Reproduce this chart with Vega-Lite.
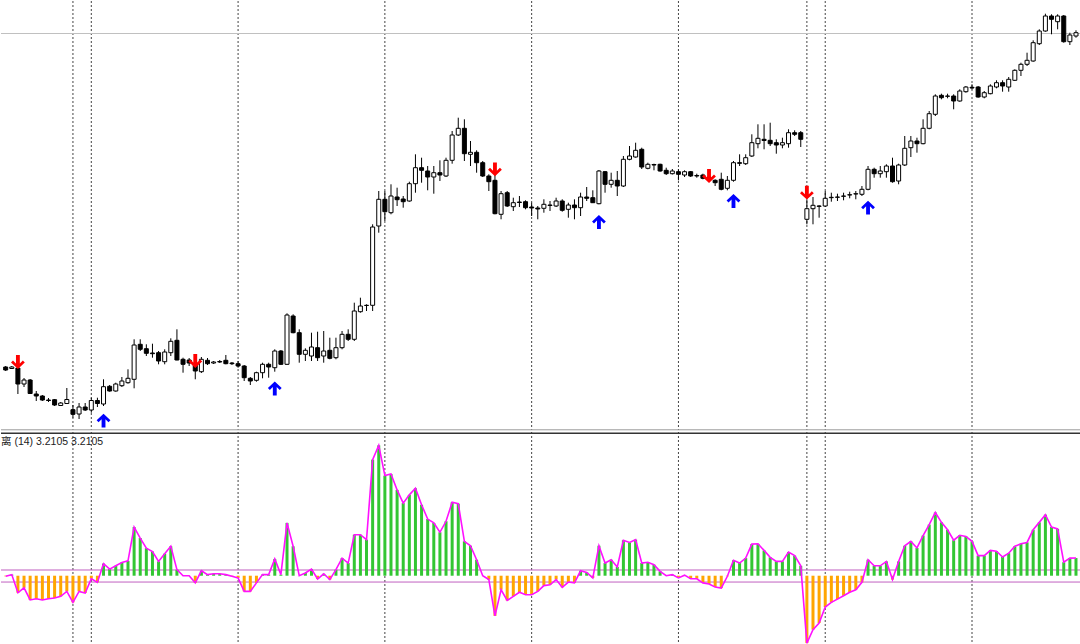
{
"$schema":"https://vega.github.io/schema/vega-lite/v6.json",
"padding":0,
"spacing":0,
"config":{"view":{"stroke":null}},
"datasets":{
"seps":[{"i":11},{"i":14},{"i":38},{"i":62},{"i":86},{"i":110},{"i":131},{"i":134},{"i":158}],
"levels":[{"lv":1.04},{"lv":-1.15}],
"bid":[{"p":1.33975}],
"topedge":[{"p":1.30012}],
"botedge":[{"v":25.9}],
"label":[{"label":"离 (14) 3.2105 3.2105","i":-0.764,"v":24.4}],
"arrows":[
{"i":2,"p":1.30690,"t":"down"},{"i":31,"p":1.30700,"t":"down"},{"i":80,"p":1.32617,"t":"down"},{"i":115,"p":1.32550,"t":"down"},{"i":131,"p":1.32383,"t":"down"},
{"i":16,"p":1.30103,"t":"up"},{"i":44,"p":1.30425,"t":"up"},{"i":97,"p":1.32090,"t":"up"},{"i":119,"p":1.32300,"t":"up"},{"i":141,"p":1.32233,"t":"up"}],
"candles":[
{"i":0,"o":1.30640,"h":1.30650,"l":1.30600,"c":1.30610},
{"i":1,"o":1.30625,"h":1.30650,"l":1.30620,"c":1.30640},
{"i":2,"o":1.30630,"h":1.30640,"l":1.30370,"c":1.30470},
{"i":3,"o":1.30470,"h":1.30530,"l":1.30440,"c":1.30510},
{"i":4,"o":1.30510,"h":1.30520,"l":1.30370,"c":1.30375},
{"i":5,"o":1.30370,"h":1.30400,"l":1.30300,"c":1.30350},
{"i":6,"o":1.30350,"h":1.30360,"l":1.30300,"c":1.30310},
{"i":7,"o":1.30310,"h":1.30330,"l":1.30290,"c":1.30305},
{"i":8,"o":1.30313,"h":1.30320,"l":1.30250,"c":1.30260},
{"i":9,"o":1.30255,"h":1.30290,"l":1.30250,"c":1.30280},
{"i":10,"o":1.30275,"h":1.30430,"l":1.30270,"c":1.30315},
{"i":11,"o":1.30213,"h":1.30260,"l":1.30133,"c":1.30167},
{"i":12,"o":1.30170,"h":1.30280,"l":1.30120,"c":1.30240},
{"i":13,"o":1.30240,"h":1.30280,"l":1.30200,"c":1.30210},
{"i":14,"o":1.30210,"h":1.30333,"l":1.30183,"c":1.30305},
{"i":15,"o":1.30305,"h":1.30333,"l":1.30240,"c":1.30275},
{"i":16,"o":1.30270,"h":1.30517,"l":1.30250,"c":1.30443},
{"i":17,"o":1.30447,"h":1.30460,"l":1.30393,"c":1.30400},
{"i":18,"o":1.30400,"h":1.30483,"l":1.30393,"c":1.30470},
{"i":19,"o":1.30453,"h":1.30540,"l":1.30440,"c":1.30500},
{"i":20,"o":1.30483,"h":1.30617,"l":1.30473,"c":1.30527},
{"i":21,"o":1.30517,"h":1.30917,"l":1.30427,"c":1.30860},
{"i":22,"o":1.30867,"h":1.30917,"l":1.30800,"c":1.30817},
{"i":23,"o":1.30823,"h":1.30867,"l":1.30750,"c":1.30777},
{"i":24,"o":1.30780,"h":1.30873,"l":1.30733,"c":1.30773},
{"i":25,"o":1.30783,"h":1.30800,"l":1.30667,"c":1.30700},
{"i":26,"o":1.30693,"h":1.30817,"l":1.30667,"c":1.30790},
{"i":27,"o":1.30783,"h":1.30927,"l":1.30750,"c":1.30897},
{"i":28,"o":1.30907,"h":1.31017,"l":1.30707,"c":1.30710},
{"i":29,"o":1.30717,"h":1.30733,"l":1.30583,"c":1.30667},
{"i":30,"o":1.30710,"h":1.30730,"l":1.30650,"c":1.30680},
{"i":31,"o":1.30667,"h":1.30733,"l":1.30517,"c":1.30600},
{"i":32,"o":1.30593,"h":1.30740,"l":1.30580,"c":1.30717},
{"i":33,"o":1.30707,"h":1.30730,"l":1.30660,"c":1.30673},
{"i":34,"o":1.30680,"h":1.30700,"l":1.30670,"c":1.30690},
{"i":35,"o":1.30695,"h":1.30710,"l":1.30680,"c":1.30690},
{"i":36,"o":1.30707,"h":1.30760,"l":1.30667,"c":1.30673},
{"i":37,"o":1.30680,"h":1.30690,"l":1.30660,"c":1.30673},
{"i":38,"o":1.30673,"h":1.30700,"l":1.30633,"c":1.30650},
{"i":39,"o":1.30650,"h":1.30660,"l":1.30500,"c":1.30533},
{"i":40,"o":1.30527,"h":1.30540,"l":1.30460,"c":1.30500},
{"i":41,"o":1.30507,"h":1.30593,"l":1.30493,"c":1.30583},
{"i":42,"o":1.30583,"h":1.30683,"l":1.30527,"c":1.30667},
{"i":43,"o":1.30667,"h":1.30683,"l":1.30533,"c":1.30640},
{"i":44,"o":1.30633,"h":1.30817,"l":1.30593,"c":1.30800},
{"i":45,"o":1.30800,"h":1.30810,"l":1.30660,"c":1.30667},
{"i":46,"o":1.30667,"h":1.31177,"l":1.30660,"c":1.31160},
{"i":47,"o":1.31150,"h":1.31167,"l":1.30977,"c":1.30983},
{"i":48,"o":1.30983,"h":1.31017,"l":1.30683,"c":1.30767},
{"i":49,"o":1.30767,"h":1.30827,"l":1.30700,"c":1.30807},
{"i":50,"o":1.30750,"h":1.30983,"l":1.30700,"c":1.30840},
{"i":51,"o":1.30833,"h":1.30993,"l":1.30700,"c":1.30733},
{"i":52,"o":1.30750,"h":1.31000,"l":1.30683,"c":1.30800},
{"i":53,"o":1.30807,"h":1.30933,"l":1.30717,"c":1.30727},
{"i":54,"o":1.30733,"h":1.30933,"l":1.30717,"c":1.30833},
{"i":55,"o":1.30833,"h":1.31000,"l":1.30817,"c":1.30967},
{"i":56,"o":1.30967,"h":1.31017,"l":1.30900,"c":1.30917},
{"i":57,"o":1.30917,"h":1.31283,"l":1.30900,"c":1.31200},
{"i":58,"o":1.31193,"h":1.31333,"l":1.31183,"c":1.31250},
{"i":59,"o":1.31255,"h":1.31267,"l":1.31200,"c":1.31257},
{"i":60,"o":1.31257,"h":1.32067,"l":1.31200,"c":1.32040},
{"i":61,"o":1.32050,"h":1.32400,"l":1.31983,"c":1.32317},
{"i":62,"o":1.32317,"h":1.32400,"l":1.32100,"c":1.32193},
{"i":63,"o":1.32183,"h":1.32467,"l":1.32167,"c":1.32350},
{"i":64,"o":1.32340,"h":1.32433,"l":1.32250,"c":1.32313},
{"i":65,"o":1.32320,"h":1.32350,"l":1.32233,"c":1.32293},
{"i":66,"o":1.32300,"h":1.32493,"l":1.32293,"c":1.32473},
{"i":67,"o":1.32473,"h":1.32767,"l":1.32383,"c":1.32633},
{"i":68,"o":1.32633,"h":1.32733,"l":1.32483,"c":1.32607},
{"i":69,"o":1.32600,"h":1.32650,"l":1.32407,"c":1.32540},
{"i":70,"o":1.32540,"h":1.32650,"l":1.32373,"c":1.32583},
{"i":71,"o":1.32583,"h":1.32707,"l":1.32500,"c":1.32560},
{"i":72,"o":1.32550,"h":1.32733,"l":1.32540,"c":1.32707},
{"i":73,"o":1.32707,"h":1.33000,"l":1.32673,"c":1.32960},
{"i":74,"o":1.32960,"h":1.33133,"l":1.32950,"c":1.33027},
{"i":75,"o":1.33027,"h":1.33117,"l":1.32700,"c":1.32773},
{"i":76,"o":1.32767,"h":1.32900,"l":1.32650,"c":1.32787},
{"i":77,"o":1.32787,"h":1.32807,"l":1.32583,"c":1.32683},
{"i":78,"o":1.32683,"h":1.32700,"l":1.32540,"c":1.32550},
{"i":79,"o":1.32550,"h":1.32567,"l":1.32400,"c":1.32493},
{"i":80,"o":1.32507,"h":1.32567,"l":1.32167,"c":1.32173},
{"i":81,"o":1.32167,"h":1.32400,"l":1.32117,"c":1.32373},
{"i":82,"o":1.32383,"h":1.32400,"l":1.32240,"c":1.32250},
{"i":83,"o":1.32243,"h":1.32333,"l":1.32200,"c":1.32283},
{"i":84,"o":1.32290,"h":1.32350,"l":1.32240,"c":1.32285},
{"i":85,"o":1.32293,"h":1.32307,"l":1.32217,"c":1.32233},
{"i":86,"o":1.32240,"h":1.32283,"l":1.32150,"c":1.32230},
{"i":87,"o":1.32230,"h":1.32250,"l":1.32117,"c":1.32220},
{"i":88,"o":1.32227,"h":1.32317,"l":1.32183,"c":1.32267},
{"i":89,"o":1.32255,"h":1.32300,"l":1.32200,"c":1.32260},
{"i":90,"o":1.32250,"h":1.32333,"l":1.32240,"c":1.32300},
{"i":91,"o":1.32300,"h":1.32317,"l":1.32193,"c":1.32207},
{"i":92,"o":1.32217,"h":1.32283,"l":1.32133,"c":1.32260},
{"i":93,"o":1.32260,"h":1.32317,"l":1.32117,"c":1.32233},
{"i":94,"o":1.32233,"h":1.32383,"l":1.32150,"c":1.32340},
{"i":95,"o":1.32340,"h":1.32440,"l":1.32300,"c":1.32327},
{"i":96,"o":1.32333,"h":1.32407,"l":1.32280,"c":1.32283},
{"i":97,"o":1.32273,"h":1.32610,"l":1.32267,"c":1.32600},
{"i":98,"o":1.32593,"h":1.32600,"l":1.32383,"c":1.32467},
{"i":99,"o":1.32467,"h":1.32583,"l":1.32433,"c":1.32507},
{"i":100,"o":1.32507,"h":1.32600,"l":1.32350,"c":1.32450},
{"i":101,"o":1.32450,"h":1.32750,"l":1.32440,"c":1.32717},
{"i":102,"o":1.32717,"h":1.32850,"l":1.32707,"c":1.32750},
{"i":103,"o":1.32740,"h":1.32883,"l":1.32733,"c":1.32807},
{"i":104,"o":1.32817,"h":1.32833,"l":1.32620,"c":1.32640},
{"i":105,"o":1.32627,"h":1.32683,"l":1.32617,"c":1.32667},
{"i":106,"o":1.32665,"h":1.32673,"l":1.32607,"c":1.32660},
{"i":107,"o":1.32667,"h":1.32673,"l":1.32593,"c":1.32600},
{"i":108,"o":1.32607,"h":1.32633,"l":1.32560,"c":1.32573},
{"i":109,"o":1.32573,"h":1.32620,"l":1.32565,"c":1.32600},
{"i":110,"o":1.32593,"h":1.32617,"l":1.32507,"c":1.32567},
{"i":111,"o":1.32560,"h":1.32607,"l":1.32540,"c":1.32593},
{"i":112,"o":1.32593,"h":1.32600,"l":1.32540,"c":1.32550},
{"i":113,"o":1.32555,"h":1.32573,"l":1.32533,"c":1.32550},
{"i":114,"o":1.32560,"h":1.32573,"l":1.32517,"c":1.32527},
{"i":115,"o":1.32540,"h":1.32570,"l":1.32500,"c":1.32517},
{"i":116,"o":1.32507,"h":1.32517,"l":1.32450,"c":1.32483},
{"i":117,"o":1.32517,"h":1.32583,"l":1.32407,"c":1.32417},
{"i":118,"o":1.32427,"h":1.32550,"l":1.32407,"c":1.32507},
{"i":119,"o":1.32507,"h":1.32700,"l":1.32493,"c":1.32683},
{"i":120,"o":1.32683,"h":1.32767,"l":1.32650,"c":1.32677},
{"i":121,"o":1.32673,"h":1.32767,"l":1.32660,"c":1.32733},
{"i":122,"o":1.32750,"h":1.32967,"l":1.32740,"c":1.32883},
{"i":123,"o":1.32873,"h":1.33067,"l":1.32827,"c":1.32927},
{"i":124,"o":1.32917,"h":1.33067,"l":1.32817,"c":1.32905},
{"i":125,"o":1.32907,"h":1.33083,"l":1.32850,"c":1.32873},
{"i":126,"o":1.32883,"h":1.32917,"l":1.32773,"c":1.32860},
{"i":127,"o":1.32860,"h":1.32933,"l":1.32827,"c":1.32883},
{"i":128,"o":1.32873,"h":1.33017,"l":1.32833,"c":1.32983},
{"i":129,"o":1.32983,"h":1.33007,"l":1.32950,"c":1.32967},
{"i":130,"o":1.32983,"h":1.33000,"l":1.32840,"c":1.32917},
{"i":131,"o":1.32117,"h":1.32317,"l":1.32067,"c":1.32223},
{"i":132,"o":1.32223,"h":1.32340,"l":1.32067,"c":1.32257},
{"i":133,"o":1.32250,"h":1.32257,"l":1.32133,"c":1.32247},
{"i":134,"o":1.32250,"h":1.32400,"l":1.32240,"c":1.32327},
{"i":135,"o":1.32333,"h":1.32383,"l":1.32293,"c":1.32337},
{"i":136,"o":1.32337,"h":1.32373,"l":1.32300,"c":1.32340},
{"i":137,"o":1.32347,"h":1.32383,"l":1.32307,"c":1.32350},
{"i":138,"o":1.32360,"h":1.32393,"l":1.32327,"c":1.32363},
{"i":139,"o":1.32370,"h":1.32400,"l":1.32317,"c":1.32373},
{"i":140,"o":1.32367,"h":1.32450,"l":1.32350,"c":1.32417},
{"i":141,"o":1.32417,"h":1.32650,"l":1.32407,"c":1.32617},
{"i":142,"o":1.32617,"h":1.32633,"l":1.32533,"c":1.32573},
{"i":143,"o":1.32573,"h":1.32650,"l":1.32533,"c":1.32600},
{"i":144,"o":1.32593,"h":1.32667,"l":1.32533,"c":1.32650},
{"i":145,"o":1.32650,"h":1.32733,"l":1.32483,"c":1.32493},
{"i":146,"o":1.32500,"h":1.32673,"l":1.32467,"c":1.32660},
{"i":147,"o":1.32660,"h":1.32950,"l":1.32650,"c":1.32827},
{"i":148,"o":1.32833,"h":1.32950,"l":1.32740,"c":1.32900},
{"i":149,"o":1.32900,"h":1.32933,"l":1.32783,"c":1.32873},
{"i":150,"o":1.32873,"h":1.33117,"l":1.32867,"c":1.33027},
{"i":151,"o":1.33027,"h":1.33200,"l":1.33017,"c":1.33173},
{"i":152,"o":1.33167,"h":1.33367,"l":1.33150,"c":1.33350},
{"i":153,"o":1.33357,"h":1.33373,"l":1.33317,"c":1.33333},
{"i":154,"o":1.33347,"h":1.33373,"l":1.33327,"c":1.33350},
{"i":155,"o":1.33350,"h":1.33367,"l":1.33217,"c":1.33300},
{"i":156,"o":1.33300,"h":1.33417,"l":1.33293,"c":1.33400},
{"i":157,"o":1.33393,"h":1.33450,"l":1.33383,"c":1.33440},
{"i":158,"o":1.33437,"h":1.33467,"l":1.33417,"c":1.33430},
{"i":159,"o":1.33440,"h":1.33450,"l":1.33333,"c":1.33340},
{"i":160,"o":1.33340,"h":1.33400,"l":1.33327,"c":1.33383},
{"i":161,"o":1.33373,"h":1.33467,"l":1.33367,"c":1.33450},
{"i":162,"o":1.33440,"h":1.33507,"l":1.33427,"c":1.33483},
{"i":163,"o":1.33483,"h":1.33507,"l":1.33393,"c":1.33450},
{"i":164,"o":1.33440,"h":1.33540,"l":1.33393,"c":1.33517},
{"i":165,"o":1.33507,"h":1.33617,"l":1.33500,"c":1.33607},
{"i":166,"o":1.33607,"h":1.33683,"l":1.33550,"c":1.33667},
{"i":167,"o":1.33667,"h":1.33783,"l":1.33650,"c":1.33707},
{"i":168,"o":1.33700,"h":1.33907,"l":1.33693,"c":1.33883},
{"i":169,"o":1.33873,"h":1.34017,"l":1.33860,"c":1.34000},
{"i":170,"o":1.34000,"h":1.34173,"l":1.33993,"c":1.34150},
{"i":171,"o":1.34150,"h":1.34167,"l":1.33967,"c":1.34117},
{"i":172,"o":1.34093,"h":1.34167,"l":1.34017,"c":1.34150},
{"i":173,"o":1.34150,"h":1.34160,"l":1.33883,"c":1.33893},
{"i":174,"o":1.33893,"h":1.33983,"l":1.33860,"c":1.33960},
{"i":175,"o":1.33950,"h":1.34007,"l":1.33933,"c":1.33983}],
"osc":[
{"i":0,"v":-0.1},{"i":1,"v":0.2},{"i":2,"v":-3.1},{"i":3,"v":-2.2},{"i":4,"v":-4.4},{"i":5,"v":-4.2},{"i":6,"v":-4.4},{"i":7,"v":-4.2},{"i":8,"v":-4.05},{"i":9,"v":-3.75},
{"i":10,"v":-2.85},{"i":11,"v":-4.85},{"i":12,"v":-2.85},{"i":13,"v":-3.15},{"i":14,"v":-0.55},{"i":15,"v":-1.2},{"i":16,"v":2.2},{"i":17,"v":1.2},{"i":18,"v":1.8},{"i":19,"v":2.4},
{"i":20,"v":2.7},{"i":21,"v":8.85},{"i":22,"v":6.85},{"i":23,"v":5.0},{"i":24,"v":4.4},{"i":25,"v":2.6},{"i":26,"v":4.0},{"i":27,"v":5.35},{"i":28,"v":1.1},{"i":29,"v":0.0},
{"i":30,"v":0.0},{"i":31,"v":-1.3},{"i":32,"v":0.9},{"i":33,"v":0.2},{"i":34,"v":0.35},{"i":35,"v":0.35},{"i":36,"v":0.2},{"i":37,"v":-0.1},{"i":38,"v":-0.4},{"i":39,"v":-2.85},
{"i":40,"v":-2.85},{"i":41,"v":-1.3},{"i":42,"v":0.2},{"i":43,"v":0.2},{"i":44,"v":3.05},{"i":45,"v":0.2},{"i":46,"v":9.6},{"i":47,"v":5.35},{"i":48,"v":0.0},{"i":49,"v":0.5},
{"i":50,"v":1.2},{"i":51,"v":-0.6},{"i":52,"v":0.35},{"i":53,"v":-0.7},{"i":54,"v":1.1},{"i":55,"v":3.2},{"i":56,"v":2.3},{"i":57,"v":7.45},{"i":58,"v":7.45},{"i":59,"v":6.55},
{"i":60,"v":21.1},{"i":61,"v":23.7},{"i":62,"v":18.2},{"i":63,"v":18.5},{"i":64,"v":15.6},{"i":65,"v":13.2},{"i":66,"v":14.7},{"i":67,"v":15.9},{"i":68,"v":12.9},{"i":69,"v":10.3},
{"i":70,"v":9.6},{"i":71,"v":7.9},{"i":72,"v":9.9},{"i":73,"v":13.35},{"i":74,"v":13.1},{"i":75,"v":6.25},{"i":76,"v":5.45},{"i":77,"v":2.9},{"i":78,"v":0.0},{"i":79,"v":-0.7},
{"i":80,"v":-7.3},{"i":81,"v":-2.55},{"i":82,"v":-4.5},{"i":83,"v":-3.75},{"i":84,"v":-3.0},{"i":85,"v":-3.45},{"i":86,"v":-3.45},{"i":87,"v":-2.85},{"i":88,"v":-1.8},{"i":89,"v":-1.65},
{"i":90,"v":-0.7},{"i":91,"v":-2.1},{"i":92,"v":-1.15},{"i":93,"v":-1.3},{"i":94,"v":0.9},{"i":95,"v":0.6},{"i":96,"v":-0.4},{"i":97,"v":5.45},{"i":98,"v":2.3},{"i":99,"v":2.9},
{"i":100,"v":1.6},{"i":101,"v":6.45},{"i":102,"v":6.05},{"i":103,"v":6.55},{"i":104,"v":2.3},{"i":105,"v":2.45},{"i":106,"v":2.0},{"i":107,"v":0.8},{"i":108,"v":0.0},{"i":109,"v":0.2},
{"i":110,"v":-0.4},{"i":111,"v":0.1},{"i":112,"v":-0.55},{"i":113,"v":-0.55},{"i":114,"v":-1.3},{"i":115,"v":-1.5},{"i":116,"v":-2.05},{"i":117,"v":-2.25},{"i":118,"v":-0.1},{"i":119,"v":2.8},
{"i":120,"v":2.3},{"i":121,"v":3.2},{"i":122,"v":5.75},{"i":123,"v":5.8},{"i":124,"v":4.6},{"i":125,"v":3.35},{"i":126,"v":2.6},{"i":127,"v":2.6},{"i":128,"v":4.3},{"i":129,"v":3.65},
{"i":130,"v":1.8},{"i":131,"v":-12.25},{"i":132,"v":-9.8},{"i":133,"v":-8.6},{"i":134,"v":-5.7},{"i":135,"v":-4.85},{"i":136,"v":-4.25},{"i":137,"v":-3.65},{"i":138,"v":-3.0},{"i":139,"v":-2.55},
{"i":140,"v":-1.2},{"i":141,"v":2.9},{"i":142,"v":1.8},{"i":143,"v":1.8},{"i":144,"v":2.6},{"i":145,"v":-0.7},{"i":146,"v":2.6},{"i":147,"v":5.45},{"i":148,"v":6.25},{"i":149,"v":5.05},
{"i":150,"v":7.3},{"i":151,"v":9.3},{"i":152,"v":11.5},{"i":153,"v":9.7},{"i":154,"v":8.35},{"i":155,"v":6.45},{"i":156,"v":7.35},{"i":157,"v":7.15},{"i":158,"v":6.25},{"i":159,"v":3.65},
{"i":160,"v":3.65},{"i":161,"v":4.6},{"i":162,"v":4.45},{"i":163,"v":3.4},{"i":164,"v":4.1},{"i":165,"v":5.35},{"i":166,"v":5.8},{"i":167,"v":6.05},{"i":168,"v":8.35},{"i":169,"v":9.7},
{"i":170,"v":11.1},{"i":171,"v":8.85},{"i":172,"v":8.5},{"i":173,"v":2.45},{"i":174,"v":3.2},{"i":175,"v":3.2105}]
},
"vconcat":[
{
"width":1080,"height":429,
"layer":[
{"data":{"name":"seps"},"mark":{"type":"rule","color":"#444444","strokeWidth":1,"strokeDash":[2,2]},
 "encoding":{"x":{"field":"i","type":"quantitative","scale":{"domain":[-0.764,175.82],"nice":false,"zero":false,"padding":0},"axis":null}}},
{"data":{"name":"bid"},"mark":{"type":"rule","color":"#c0c0c0","strokeWidth":1},
 "encoding":{"y":{"field":"p","type":"quantitative","scale":{"domain":[1.3001,1.343],"nice":false,"zero":false},"axis":null}}},
{"data":{"name":"topedge"},"mark":{"type":"rule","color":"#9a9a9a","strokeWidth":1},
 "encoding":{"y":{"field":"p","type":"quantitative","axis":null}}},
{"data":{"name":"candles"},"mark":{"type":"rule","color":"#000000","strokeWidth":1},
 "encoding":{"x":{"field":"i","type":"quantitative","axis":null},
   "y":{"field":"l","type":"quantitative","axis":null},
   "y2":{"field":"h"}}},
{"data":{"name":"candles"},"mark":{"type":"bar","size":4,"stroke":"#000000","strokeWidth":1},
 "encoding":{"x":{"field":"i","type":"quantitative","axis":null},
   "y":{"field":"o","type":"quantitative","axis":null},"y2":{"field":"c"},
   "fill":{"condition":{"test":"datum.c >= datum.o","value":"#ffffff"},"value":"#000000"}}},
{"data":{"name":"arrows"},"mark":{"type":"point","filled":true,"size":190,"opacity":1,"strokeWidth":0},
 "encoding":{"x":{"field":"i","type":"quantitative","axis":null},"y":{"field":"p","type":"quantitative","axis":null},
   "color":{"field":"t","type":"nominal","scale":{"domain":["down","up"],"range":["#ff0000","#0000ff"]},"legend":null},
   "shape":{"field":"t","type":"nominal","scale":{"domain":["down","up"],"range":["M-0.28,-1L0.28,-1L0.28,0.22L0.72,-0.22L1,0.08L0,1L-1,0.08L-0.72,-0.22L-0.28,0.22Z","M-0.28,1L0.28,1L0.28,-0.22L0.72,0.22L1,-0.08L0,-1L-1,-0.08L-0.72,0.22L-0.28,-0.22Z"]},"legend":null}}}
]
},
{
"width":1080,"height":215,
"layer":[
{"data":{"name":"seps"},"mark":{"type":"rule","color":"#444444","strokeWidth":1,"strokeDash":[2,2]},
 "encoding":{"x":{"field":"i","type":"quantitative","scale":{"domain":[-0.764,175.82],"nice":false,"zero":false,"padding":0},"axis":null}}},
{"data":{"name":"levels"},"mark":{"type":"rule","color":"#c060c0","strokeWidth":1},
 "encoding":{"y":{"field":"lv","type":"quantitative","scale":{"domain":[-12.96,26.13],"nice":false,"zero":false},"axis":null}}},
{"data":{"name":"botedge"},"mark":{"type":"rule","color":"#333333","strokeWidth":1.5},
 "encoding":{"y":{"field":"v","type":"quantitative","axis":null}}},
{"data":{"name":"osc"},"mark":{"type":"bar","size":3},
 "encoding":{"x":{"field":"i","type":"quantitative","axis":null},"y":{"field":"v","type":"quantitative","axis":null},
   "color":{"condition":{"test":"datum.v >= 0","value":"#33c633"},"value":"#ffa500"}}},
{"data":{"name":"osc"},"mark":{"type":"line","color":"#ff10ff","strokeWidth":1.6},
 "encoding":{"x":{"field":"i","type":"quantitative","axis":null},"y":{"field":"v","type":"quantitative","axis":null}}},
{"data":{"name":"label"},
 "mark":{"type":"text","align":"left","baseline":"middle","font":"Liberation Sans, Noto Sans CJK SC, sans-serif","fontSize":10.5,"color":"#222222"},
 "encoding":{"x":{"field":"i","type":"quantitative","axis":null},"y":{"field":"v","type":"quantitative","axis":null},"text":{"field":"label"}}}
]
}
]
}
